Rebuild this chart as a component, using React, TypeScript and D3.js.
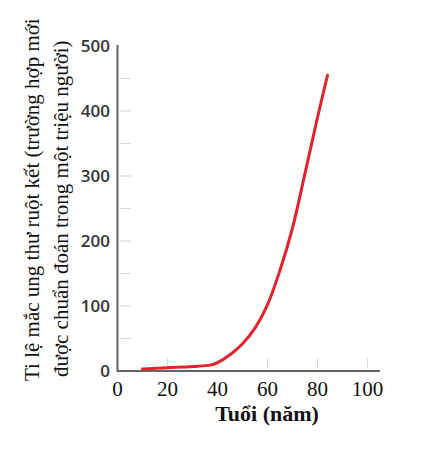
import * as d3 from 'd3';
import { useEffect, useRef } from 'react';

// tuổi (năm) và tỉ lệ mắc tương ứng
const ages = [10, 20, 30, 37, 40, 45, 50, 55, 60, 65, 70, 75, 80, 84];
const rates = [3, 5, 7, 9, 13, 25, 42, 66, 102, 155, 220, 304, 390, 455];

const xTicks = [0, 20, 40, 60, 80, 100];
const yTicks = [0, 100, 200, 300, 400, 500];
const yMinorTicks = [50, 100, 150, 200, 250, 300, 350, 400, 450];

const yTitle = ['Ti lệ mắc ung thư ruột kết (trường hợp mới', 'được chuẩn đoán trong một triệu người)'];
const xTitle = 'Tuổi (năm)';

const W = 446;
const H = 453;

export default function App() {
	const ref = useRef<SVGSVGElement>(null);

	useEffect(() => {
		const svg = d3.select(ref.current);
		svg.selectAll('*').remove();

		const x = d3.scaleLinear().domain([0, 100]).range([117.5, 367.5]);
		const y = d3.scaleLinear().domain([0, 500]).range([371, 46]);

		// vạch chia phụ
		svg
			.append('g')
			.selectAll('line')
			.data(yMinorTicks)
			.enter()
			.append('line')
			.attr('x1', 120)
			.attr('x2', 131)
			.attr('y1', (d) => y(d))
			.attr('y2', (d) => y(d))
			.attr('stroke', '#d3dede')
			.attr('stroke-width', 1.2);

		svg
			.append('g')
			.selectAll('line')
			.data(xTicks.slice(1))
			.enter()
			.append('line')
			.attr('x1', (d) => x(d))
			.attr('x2', (d) => x(d))
			.attr('y1', 358)
			.attr('y2', 368)
			.attr('stroke', '#d3dede')
			.attr('stroke-width', 1.2);

		// trục
		svg
			.append('path')
			.attr('d', `M${x(0)},${y(500) - 1}V${y(0)}H380`)
			.attr('fill', 'none')
			.attr('stroke', '#666')
			.attr('stroke-width', 2);

		// nhãn trục tung
		svg
			.append('g')
			.selectAll('text')
			.data(yTicks)
			.enter()
			.append('text')
			.attr('x', 110)
			.attr('y', (d) => y(d) + 6)
			.attr('text-anchor', 'end')
			.style('font-family', '"Open Sans", sans-serif')
			.style('font-size', '17px')
			.style('font-weight', 600)
			.attr('fill', '#333')
			.text((d) => d);

		// nhãn trục hoành
		svg
			.append('g')
			.selectAll('text')
			.data(xTicks)
			.enter()
			.append('text')
			.attr('x', (d) => x(d))
			.attr('y', 396)
			.attr('text-anchor', 'middle')
			.style('font-family', '"Liberation Serif", serif')
			.style('font-size', '21px')
			.attr('fill', '#111')
			.text((d) => d);

		svg
			.append('text')
			.attr('x', 267)
			.attr('y', 421)
			.attr('text-anchor', 'middle')
			.style('font-family', '"Liberation Serif", serif')
			.style('font-size', '22px')
			.style('font-weight', 'bold')
			.attr('fill', '#111')
			.text(xTitle);

		svg
			.append('g')
			.selectAll('text')
			.data(yTitle)
			.enter()
			.append('text')
			.attr('transform', (_, i) => `translate(${i === 0 ? 39 : 68},${i === 0 ? 381 : 377}) rotate(-90)`)
			.attr('text-anchor', 'start')
			.style('font-family', '"Liberation Serif", serif')
			.style('font-size', '21px')
			.attr('fill', '#111')
			.text((d) => d);

		// đường cong
		const line = d3
			.line<number>()
			.x((_, i) => x(ages[i]))
			.y((d) => y(d))
			.curve(d3.curveCatmullRom.alpha(0.5));

		svg
			.append('path')
			.datum(rates)
			.attr('d', line)
			.attr('fill', 'none')
			.attr('stroke', '#e3222b')
			.attr('stroke-width', 3)
			.attr('stroke-linecap', 'round');
	}, []);

	return (
		<svg
			ref={ref}
			width={W}
			height={H}
			style={{ position: 'absolute', left: 0, top: 0, background: '#fff' }}
		></svg>
	);
}
